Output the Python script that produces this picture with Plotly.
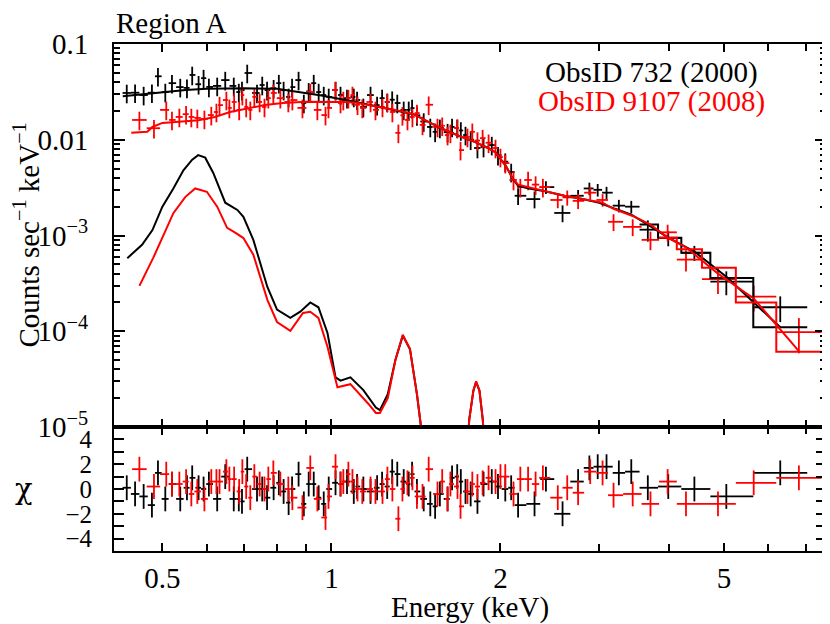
import numpy as np
import plotly.graph_objects as go

# ObsID 732 (2000) -- black
e_732 = [0.432, 0.447, 0.463, 0.479, 0.491, 0.506, 0.52, 0.538, 0.553, 0.565,
         0.58, 0.592, 0.605, 0.626, 0.647, 0.67, 0.684, 0.693, 0.708, 0.737,
         0.753, 0.768, 0.789, 0.806, 0.822, 0.839, 0.851, 0.874, 0.893, 0.911,
         0.93, 0.949, 0.969, 0.989, 1.017, 1.038, 1.066, 1.096, 1.111, 1.14,
         1.174, 1.206, 1.231, 1.257, 1.283, 1.31, 1.345, 1.373, 1.392, 1.42,
         1.46, 1.5, 1.53, 1.56, 1.61, 1.64, 1.675, 1.70, 1.733, 1.77,
         1.82, 1.866, 1.93, 1.98, 2.04, 2.09, 2.15, 2.30, 2.41, 2.58,
         2.75, 2.88, 2.98, 3.09, 3.25, 3.42, 3.66, 3.98, 4.43, 5.05,
         6.3]
f_732 = [0.0308, 0.031, 0.0293, 0.031, 0.046, 0.0315, 0.039, 0.0355, 0.0348, 0.0475,
         0.038, 0.044, 0.0356, 0.0365, 0.042, 0.0365, 0.0315, 0.033, 0.0498, 0.0308,
         0.0373, 0.033, 0.0345, 0.039, 0.033, 0.028, 0.0355, 0.042, 0.0242, 0.032,
         0.039, 0.0315, 0.0293, 0.028, 0.033, 0.0293, 0.0272, 0.028, 0.026, 0.022,
         0.0293, 0.023, 0.0272, 0.0248, 0.0262, 0.0242, 0.0205, 0.0205, 0.0214, 0.018,
         0.0155, 0.0136, 0.0121, 0.0133, 0.012, 0.0136, 0.0133, 0.0125, 0.0112, 0.0100,
         0.0082, 0.0084, 0.0088, 0.0069, 0.0059, 0.0046, 0.0026, 0.0024, 0.0032, 0.00172,
         0.0026, 0.0031, 0.0030, 0.0028, 0.00205, 0.0020, 0.00115, 0.00094, 0.00066, 0.00033,
         0.000178]
rerr_732 = [0.22] * 66 + [0.2, 0.2, 0.15, 0.2, 0.15, 0.15, 0.15, 0.15, 0.15, 0.15,
                          0.25, 0.18, 0.18, 0.28, 0.3]
chi_732 = [0.1, -0.4, -0.6, -1.3, 1.3, -0.8, 0.4, -0.8, 0.1, 0.9,
           0.1, 0.0, 0.4, -0.8, 1.0, -0.8, -0.8, -1.0, 1.6, 0.0,
           0.0, -0.7, 0.1, 0.5, -0.2, -1.1, 0.0, 1.2, -1.2, 0.4,
           0.4, -0.7, -1.2, 0.0, 0.5, 0.4, 0.6, -0.2, 0.2, 0.0,
           -0.2, 0.1, 0.4, 0.2, 1.4, 1.2, 0.6, 0.4, 1.2, -0.2,
           -0.8, -1.2, -1.4, -0.4, -0.8, 0.9, 1.0, 0.6, -0.2, -0.4,
           -1.0, 0.4, 0.6, 0.2, 0.0, 0.1, -1.3, -1.2, 0.8, -2.0,
           0.6, 1.7, 1.8, 1.8, 1.3, 1.4, 0.1, 0.2, 0.0, -0.6,
           1.3]

# ObsID 9107 (2008) -- red
e_9107 = [0.455, 0.483, 0.508, 0.52, 0.536, 0.551, 0.563, 0.577, 0.594, 0.611,
          0.624, 0.632, 0.65, 0.658, 0.671, 0.685, 0.694, 0.705, 0.717, 0.729,
          0.745, 0.76, 0.772, 0.788, 0.811, 0.838, 0.852, 0.888, 0.917, 0.944,
          0.976, 0.988, 1.017, 1.038, 1.05, 1.072, 1.09, 1.113, 1.135, 1.174,
          1.198, 1.233, 1.258, 1.284, 1.316, 1.338, 1.366, 1.394, 1.42, 1.453,
          1.49, 1.545, 1.575, 1.61, 1.629, 1.677, 1.698, 1.747, 1.782, 1.82,
          1.859, 1.905, 1.96, 2.0, 2.04, 2.11, 2.17, 2.24, 2.31, 2.38,
          2.53, 2.63, 2.75, 2.89, 3.04, 3.18, 3.44, 3.70, 3.97, 4.28,
          4.88, 5.65, 6.8]
f_9107 = [0.0161, 0.0132, 0.0205, 0.0161, 0.0173, 0.0185, 0.0173, 0.0169, 0.0165, 0.0181,
          0.0195, 0.023, 0.026, 0.0215, 0.0248, 0.0205, 0.0293, 0.022, 0.0205, 0.028,
          0.0248, 0.022, 0.0272, 0.0308, 0.0272, 0.0248, 0.026, 0.0215, 0.0315, 0.0205,
          0.0181, 0.0215, 0.033, 0.0242, 0.026, 0.0272, 0.0293, 0.0232, 0.0215, 0.0248,
          0.0205, 0.022, 0.0248, 0.0195, 0.0118, 0.018, 0.0161, 0.0173, 0.019, 0.0143,
          0.0232, 0.0136, 0.014, 0.0112, 0.0118, 0.0133, 0.0078, 0.0107, 0.0121, 0.0098,
          0.0104, 0.0093, 0.0082, 0.0066, 0.0057, 0.0038, 0.0032, 0.0038, 0.0034, 0.0032,
          0.00235, 0.0025, 0.0023, 0.0028, 0.00235, 0.00139, 0.00123, 0.0009, 0.00108, 0.00056,
          0.00035, 0.00023, 0.000098]
rerr_9107 = [0.22] * 70 + [0.18, 0.18, 0.18, 0.15, 0.15, 0.2, 0.2, 0.22, 0.2, 0.25,
                           0.3, 0.3, 0.4]
chi_9107 = [1.6, 0.2, 1.2, 0.4, 0.4, 0.6, -0.4, -0.2, -0.8, 0.6,
            0.6, 0.6, 1.4, 0.8, 0.8, -0.2, 1.4, 0.2, -0.7, 1.0,
            0.4, 0.0, 0.8, 1.3, 0.4, 0.0, -0.7, -1.5, 1.7, -0.8,
            -2.3, -0.6, 1.8, 0.4, 0.6, 1.2, 0.6, 0.0, -0.2, 0.0,
            -0.2, -0.2, 0.8, 0.0, -2.4, 0.0, 0.5, 0.9, -0.6, -0.6,
            1.6, -0.4, 0.6, -0.8, 0.4, 0.2, -1.4, -0.2, 0.4, 0.2,
            0.5, 0.9, 0.6, 1.0, 1.0, -0.4, 0.8, 0.8, 0.4, 0.9,
            -0.7, 0.1, -0.3, 1.4, 1.3, -0.5, -0.4, -1.2, 0.6, -1.2,
            -1.2, 0.5, 0.9]

# total folded models
model_e_732 = [0.425, 0.45, 0.5, 0.55, 0.6, 0.7, 0.8, 0.9, 0.96, 1.1, 1.3, 1.4, 1.5, 1.6,
               1.7, 1.8, 1.9, 1.96, 2.05, 2.1, 2.15, 2.25, 2.4, 2.6, 2.8, 3.0, 3.2, 3.42,
               3.66, 3.98, 4.43, 5.05, 6.3]
model_732 = [0.0285, 0.0295, 0.031, 0.033, 0.034, 0.0345, 0.034, 0.031, 0.029, 0.025, 0.0205,
             0.0185, 0.015, 0.0125, 0.0108, 0.0095, 0.0082, 0.0074, 0.0052, 0.0040, 0.0033,
             0.0031, 0.0029, 0.0026, 0.0024, 0.0022, 0.0019, 0.00165, 0.0013, 0.00095,
             0.00068, 0.00037, 0.00011]
model_e_9107 = [0.44, 0.47, 0.48, 0.5, 0.58, 0.62, 0.66, 0.76, 0.82, 0.9, 1.05, 1.1, 1.3, 1.4,
                1.5, 1.6, 1.7, 1.8, 1.9, 1.96, 2.05, 2.1, 2.15, 2.25, 2.4, 2.6, 2.8, 3.04,
                3.18, 3.44, 3.70, 3.97, 4.28, 4.88, 5.65, 6.8]
model_9107 = [0.0118, 0.0121, 0.0136, 0.015, 0.016, 0.0173, 0.0195, 0.023, 0.0242, 0.025,
              0.0248, 0.0245, 0.0205, 0.0185, 0.015, 0.0125, 0.0108, 0.0095, 0.0082, 0.0074,
              0.0052, 0.0040, 0.0034, 0.0032, 0.0029, 0.0026, 0.0024, 0.0022, 0.0019, 0.0016,
              0.0013, 0.00095, 0.00075, 0.00040, 0.00022, 0.000062]
# model values in the last wide bins (drawn as steps)
step_732 = [0.0013, 0.00095, 0.00066, 0.00036, 0.00011]
step_9107 = [0.00095, 0.00072, 0.00046, 0.0002, 0.000061]

# soft thermal component
soft_e_732 = [0.433, 0.46, 0.48, 0.5, 0.523, 0.545, 0.565, 0.579, 0.596, 0.616, 0.647, 0.68,
              0.697, 0.726, 0.769, 0.80, 0.845, 0.88, 0.917, 0.948, 0.984, 1.017, 1.038,
              1.081, 1.14, 1.2, 1.22, 1.26, 1.3, 1.34, 1.38, 1.42, 1.46, 1.72, 1.74, 1.76,
              1.79, 1.81, 1.835, 1.86, 1.88, 1.9]
soft_732 = [0.00058, 0.0008, 0.00114, 0.0020, 0.0031, 0.0048, 0.0062, 0.0069, 0.0065, 0.0045,
            0.0022, 0.00185, 0.00157, 0.0009, 0.00029, 0.000168, 0.000138, 0.00016, 0.0002,
            0.000178, 0.000096, 0.000033, 0.0000305, 0.000033, 0.0000243, 0.000016, 0.000015,
            0.000022, 0.00005, 0.00009, 0.000065, 0.000022, 0.000006, 0.000002, 0.000005,
            0.000012, 0.000024, 0.0000295, 0.000024, 0.000012, 0.000005, 0.000002]
soft_e_9107 = [0.455, 0.482, 0.523, 0.549, 0.572, 0.6, 0.626, 0.652, 0.674, 0.697, 0.726,
               0.769, 0.80, 0.845, 0.89, 0.917, 0.948, 0.984, 1.025, 1.081, 1.163, 1.2, 1.22,
               1.26, 1.3, 1.34, 1.38, 1.42, 1.46, 1.72, 1.74, 1.76, 1.79, 1.81, 1.835, 1.86,
               1.88, 1.9]
soft_9107 = [0.000298, 0.00059, 0.00171, 0.00252, 0.0031, 0.00286, 0.0020, 0.0012, 0.00107,
             0.00094, 0.00063, 0.000213, 0.000125, 0.000101, 0.000155, 0.00016, 0.000138,
             0.000069, 0.000026, 0.000028, 0.0000175, 0.000014, 0.000014, 0.00002, 0.00005,
             0.000092, 0.000065, 0.000022, 0.000006, 0.000002, 0.000005, 0.000012, 0.000024,
             0.00003, 0.000024, 0.000012, 0.000005, 0.000002]

FONT = "Liberation Serif"
FS = 29
XMIN, XMAX = 0.41, 7.6


def bin_edges(e):
    le = np.log10(e)
    mid = (le[1:] + le[:-1]) / 2
    lo = np.concatenate([[2 * le[0] - mid[0]], mid])
    hi = np.concatenate([mid, [2 * le[-1] - mid[-1]]])
    return 10 ** lo, 10 ** hi


fig = go.Figure()

series = [
    (e_732, f_732, rerr_732, chi_732, model_e_732, model_732, step_732, "black"),
    (e_9107, f_9107, rerr_9107, chi_9107, model_e_9107, model_9107, step_9107, "red"),
]

for e, f, rerr, chi, me, mv, st, col in series:
    e = np.array(e)
    f = np.array(f)
    lo, hi = bin_edges(e)
    ex = dict(type="data", symmetric=False, array=hi - e, arrayminus=e - lo,
              color=col, thickness=1.8, width=0)
    fig.add_trace(go.Scatter(
        x=e, y=f, mode="markers", marker=dict(size=1, color=col),
        error_x=ex,
        error_y=dict(type="data", array=f * np.array(rerr), color=col, thickness=1.8, width=0),
        xaxis="x", yaxis="y", showlegend=False))
    fig.add_trace(go.Scatter(
        x=e, y=chi, mode="markers", marker=dict(size=1, color=col),
        error_x=ex,
        error_y=dict(type="constant", value=1, color=col, thickness=1.8, width=0),
        xaxis="x2", yaxis="y2", showlegend=False))

for e, f, rerr, chi, me, mv, st, col in series:
    fig.add_trace(go.Scatter(x=me, y=mv, mode="lines", line=dict(color=col, width=2),
                             xaxis="x", yaxis="y", showlegend=False))
    lo, hi = bin_edges(np.array(e))
    n = len(st)
    sx, sy = [], []
    for a, b, v in zip(lo[-n:], hi[-n:], st):
        sx += [a, b]
        sy += [v, v]
    fig.add_trace(go.Scatter(x=sx, y=sy, mode="lines", line=dict(color=col, width=2),
                             xaxis="x", yaxis="y", showlegend=False))

fig.add_trace(go.Scatter(x=soft_e_732, y=soft_732, mode="lines",
                         line=dict(color="black", width=2), xaxis="x", yaxis="y",
                         showlegend=False))
fig.add_trace(go.Scatter(x=soft_e_9107, y=soft_9107, mode="lines",
                         line=dict(color="red", width=2), xaxis="x", yaxis="y",
                         showlegend=False))

# the page body adds an 8 px offset, so the figure is 8 px smaller
split = 124 / 507
axis_common = dict(showline=True, linecolor="black", linewidth=2, mirror="allticks",
                   ticks="inside", tickcolor="black", tickwidth=1.5, showgrid=False,
                   zeroline=False, automargin=False,
                   tickfont=dict(family=FONT, size=FS, color="black"))
xminor = dict(tickvals=[0.6, 0.7, 0.8, 0.9, 3, 4, 6, 7], ticks="inside", ticklen=7,
              tickcolor="black", tickwidth=1.5, showgrid=False)

fig.update_layout(
    width=822, height=616,
    margin=dict(l=106, r=4, t=36, b=73),
    paper_bgcolor="white", plot_bgcolor="white",
    font=dict(family=FONT, size=FS, color="black"),
    xaxis=dict(axis_common, type="log", range=[np.log10(XMIN), np.log10(XMAX)],
               anchor="y", tickvals=[0.5, 1, 2, 5], ticklen=8, showticklabels=False,
               minor=xminor),
    xaxis2=dict(axis_common, type="log", range=[np.log10(XMIN), np.log10(XMAX)],
                anchor="y2", matches="x", tickvals=[0.5, 1, 2, 5], ticktext=["0.5", "1", "2", "5"],
                ticklen=8, minor=xminor, ticklabelstandoff=0,
                title=dict(text="Energy (keV)", standoff=8,
                           font=dict(family=FONT, size=FS))),
    yaxis=dict(axis_common, type="log", range=[-5, -1], domain=[split, 1], anchor="x",
               tickvals=[1e-5, 1e-4, 1e-3, 1e-2, 1e-1],
               ticktext=["10<sup>−5</sup>", "10<sup>−4</sup>", "10<sup>−3</sup>", "0.01", "0.1"],
               ticklen=11, ticklabelstandoff=18,
               minor=dict(tickvals=[m * 10.0 ** d for d in range(-5, -1) for m in range(2, 10)],
                          ticks="inside", ticklen=6, tickcolor="black", tickwidth=1.5,
                          showgrid=False)),
    yaxis2=dict(axis_common, range=[-5, 5], domain=[0, split], anchor="x2",
                tickvals=[-4, -2, 0, 2, 4], ticklen=10, ticklabelstandoff=15,
                tickfont=dict(family=FONT, size=25, color="black"),
                minor=dict(dtick=1, ticks="inside", ticklen=10, tickcolor="black",
                           tickwidth=1.5, showgrid=False)),
    annotations=[
        dict(text="Counts sec<sup>−1</sup> keV<sup>−1</sup>", xref="paper", yref="paper",
             x=(26 - 114) / 712, y=split + (1 - split) / 2, textangle=-90,
             xanchor="center", yanchor="middle", showarrow=False,
             font=dict(family=FONT, size=FS, color="black")),
        dict(text="χ", xref="paper", yref="paper", x=(24 - 114) / 712, y=62 / 507,
             xanchor="center", yanchor="middle", showarrow=False,
             font=dict(family="DejaVu Serif", size=FS, color="black")),
        dict(text="Region A", xref="paper", yref="paper", x=0, y=1, yshift=3,
             xanchor="left", yanchor="bottom", showarrow=False,
             font=dict(family=FONT, size=FS, color="black")),
        dict(text="ObsID 732 (2000)", xref="paper", yref="paper", x=(651 - 114) / 712,
             y=1 - 29 / 507, xanchor="center", yanchor="middle", showarrow=False,
             font=dict(family=FONT, size=FS, color="black")),
        dict(text="ObsID 9107 (2008)", xref="paper", yref="paper", x=(651 - 114) / 712,
             y=1 - 57 / 507, xanchor="center", yanchor="middle", showarrow=False,
             font=dict(family=FONT, size=FS, color="red")),
    ],
)

fig.write_html("out.html")
